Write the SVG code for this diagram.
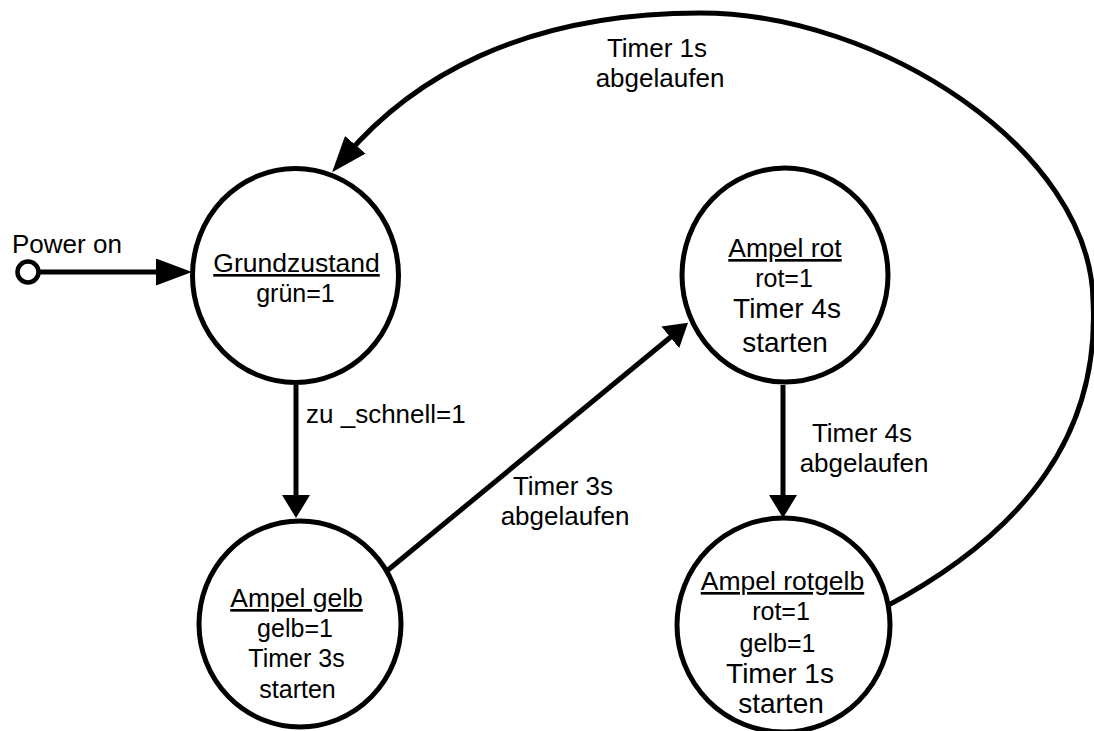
<svg xmlns="http://www.w3.org/2000/svg" width="1094" height="731" viewBox="0 0 1094 731">
  <style>
    .state { fill: #ffffff; stroke: #000000; stroke-width: 5; }
    .edge { fill: none; stroke: #000000; stroke-width: 5; }
    text { font-family: "Liberation Sans", Arial, sans-serif; fill: #000000; text-anchor: middle; }
    .title { font-size: 26.5px; text-decoration: underline; }
    .body { font-size: 25px; }
    .big { font-size: 28px; }
    .label { font-size: 26px; }
  </style>
  <defs>
    <marker id="head" viewBox="0 0 23 28" markerWidth="23" markerHeight="28" refX="10" refY="14" orient="auto" markerUnits="userSpaceOnUse">
      <path d="M0,0 L23,14 L0,28 z" fill="#000000"/>
    </marker>
    <marker id="headLong" viewBox="0 0 36 27" markerWidth="36" markerHeight="27" refX="16" refY="13.5" orient="auto" markerUnits="userSpaceOnUse">
      <path d="M0,0 L36,13.5 L0,27 z" fill="#000000"/>
    </marker>
  </defs>

  <rect width="1094" height="731" fill="#ffffff"/>

  <g id="connectors">
    <!-- initial transition -->
    <path class="edge" d="M39,272 L172,272" marker-end="url(#headLong)"/>
    <!-- Grundzustand to Ampel gelb -->
    <path class="edge" d="M296,385 L296,505" marker-end="url(#head)"/>
    <!-- Ampel gelb to Ampel rot -->
    <path class="edge" d="M388,570 L678,331" marker-end="url(#head)"/>
    <!-- Ampel rot to Ampel rotgelb -->
    <path class="edge" d="M783,385 L783,505" marker-end="url(#head)"/>
    <!-- Ampel rotgelb back to Grundzustand -->
    <path class="edge" d="M885,607 C1030,530 1100,430 1093,300 C1090,150 880,13 700,13 C520,13 410,80 345,157" marker-end="url(#headLong)"/>
  </g>

  <g id="power-on">
    <circle cx="28" cy="272" r="10.5" fill="#ffffff" stroke="#000000" stroke-width="4.5"/>
    <text x="12" y="253" class="label" style="text-anchor:start">Power on</text>
  </g>

  <g id="grundzustand">
    <ellipse class="state" cx="295.5" cy="275.5" rx="103" ry="107"/>
    <text x="296.5" y="272" class="title">Grundzustand</text>
    <text x="295.5" y="302" class="body">grün=1</text>
  </g>

  <g id="ampel-gelb">
    <ellipse class="state" cx="300" cy="624" rx="101" ry="103"/>
    <text x="296.5" y="607" class="title">Ampel gelb</text>
    <text x="295" y="637" class="body">gelb=1</text>
    <text x="296.5" y="667" class="body">Timer 3s</text>
    <text x="297.5" y="698" class="body">starten</text>
  </g>

  <g id="ampel-rot">
    <ellipse class="state" cx="785" cy="275" rx="103" ry="107"/>
    <text x="785" y="257" class="title">Ampel rot</text>
    <text x="784" y="287" class="body">rot=1</text>
    <text x="787" y="318" class="big">Timer 4s</text>
    <text x="785" y="352" class="big">starten</text>
  </g>

  <g id="ampel-rotgelb">
    <ellipse class="state" cx="783.5" cy="625" rx="106.5" ry="107"/>
    <text x="782.5" y="590" class="title">Ampel rotgelb</text>
    <text x="781" y="620" class="body">rot=1</text>
    <text x="777.5" y="652" class="body">gelb=1</text>
    <text x="780" y="683" class="big">Timer 1s</text>
    <text x="781" y="713" class="big">starten</text>
  </g>

  <g id="edge-labels">
    <text x="306" y="423" class="label" style="text-anchor:start">zu _schnell=1</text>
    <text x="563" y="495" class="label">Timer 3s</text>
    <text x="565" y="525" class="label">abgelaufen</text>
    <text x="862" y="442" class="label">Timer 4s</text>
    <text x="864" y="472" class="label">abgelaufen</text>
    <text x="657" y="57" class="label">Timer 1s</text>
    <text x="660" y="87" class="label">abgelaufen</text>
  </g>
</svg>
